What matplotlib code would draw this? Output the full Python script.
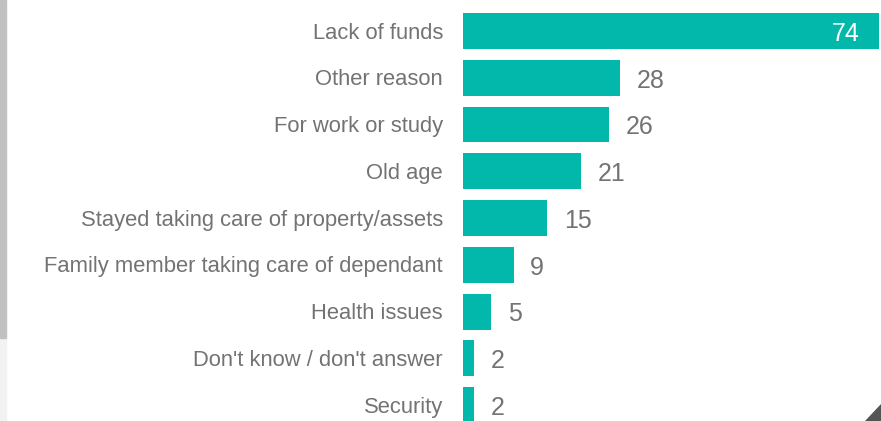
import matplotlib.pyplot as plt
from matplotlib.patches import Rectangle, Polygon

reasons = ["Lack of funds", "Other reason", "For work or study", "Old age",
           "Stayed taking care of property/assets",
           "Family member taking care of dependant", "Health issues",
           "Don't know / don't answer", "Security"]
counts = [74, 28, 26, 21, 15, 9, 5, 2, 2]

teal = "#02b8aa"
grey_txt = "#737373"

plt.rcParams['font.family'] = ['Liberation Sans', 'DejaVu Sans']

fig = plt.figure(figsize=(8.81, 4.21), dpi=100)
ax = fig.add_axes([463 / 881, 0, (879 - 463) / 881, 1])

ypos = list(range(len(reasons)))
ax.barh(ypos, counts, height=0.77, color=teal)
ax.set_xlim(0, 74)
ax.set_ylim(8.342, -0.663)

for y, lab, v in zip(ypos, reasons, counts):
    ax.annotate(lab, (0, y), xytext=(-14.4, -1.5), textcoords="offset points",
                ha="right", va="center", fontsize=15.8, color=grey_txt)
    if v == max(counts):
        ax.annotate(str(v), (v, y), xytext=(-13.7, -2), textcoords="offset points",
                    ha="right", va="center", fontsize=18, color="white")
    else:
        ax.annotate(str(v), (v, y), xytext=(12, -2), textcoords="offset points",
                    ha="left", va="center", fontsize=18, color=grey_txt)

ax.axis("off")

# scroll strip on the left and the resize grip in the corner
fig.patches.append(Rectangle((0, 0), 6 / 881, 83 / 421, transform=fig.transFigure,
                             color="#f2f2f2", zorder=0))
fig.patches.append(Rectangle((0, 83 / 421), 6 / 881, 338 / 421, transform=fig.transFigure,
                             color="#c1c1c1", zorder=0))
fig.patches.append(Polygon([(865 / 881, 0), (881 / 881, 0), (881 / 881, 17 / 421)],
                           closed=True, transform=fig.transFigure, color="#555555"))

fig.savefig("out.png", dpi=100)
